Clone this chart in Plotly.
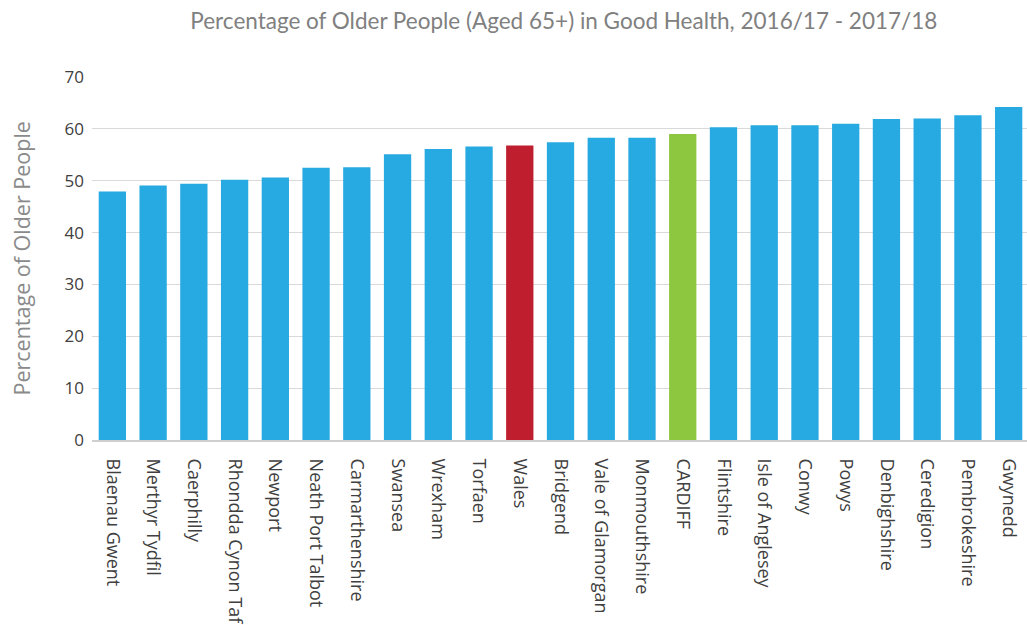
import plotly.graph_objects as go

areas = ["Blaenau Gwent", "Merthyr Tydfil", "Caerphilly", "Rhondda Cynon Taf", "Newport",
         "Neath Port Talbot", "Carmarthenshire", "Swansea", "Wrexham", "Torfaen", "Wales",
         "Bridgend", "Vale of Glamorgan", "Monmouthshire", "CARDIFF", "Flintshire",
         "Isle of Anglesey", "Conwy", "Powys", "Denbighshire", "Ceredigion",
         "Pembrokeshire", "Gwynedd"]
values = [47.9, 49.1, 49.4, 50.2, 50.6, 52.5, 52.6, 55.1, 56.1, 56.6, 56.8,
          57.4, 58.3, 58.3, 59.0, 60.3, 60.7, 60.7, 61.0, 61.9, 62.0, 62.6, 64.2]
y_ticks = [0, 10, 20, 30, 40, 50, 60, 70]

BLUE = "#27a9e1"
RED = "#be1e2d"
GREEN = "#8dc63f"
colors = [RED if a == "Wales" else GREEN if a == "CARDIFF" else BLUE for a in areas]

fig = go.Figure(go.Bar(
    x=areas, y=values, marker=dict(color=colors, line=dict(width=0)),
))

fig.update_layout(
    width=1027, height=625,
    margin=dict(l=92, r=0, t=77, b=185, autoexpand=False),
    paper_bgcolor="white", plot_bgcolor="white",
    bargap=0.33,
    showlegend=False,
    title=dict(text="Percentage of Older People (Aged 65+) in Good Health, 2016/17 - 2017/18",
               x=0.549, xanchor="center", y=0.967, yanchor="middle",
               font=dict(family="Lato", size=22.5, color="#808080")),
    font=dict(family="Open Sans", color="#404040"),
    annotations=[dict(text="Percentage of Older People", textangle=-90,
                      xref="paper", yref="paper", x=0, y=0.5, xshift=-71,
                      xanchor="center", yanchor="middle", showarrow=False,
                      font=dict(size=21.5, color="#8a8a8a", family="Open Sans"))],
)
fig.update_xaxes(
    automargin=False,
    tickangle=90, tickfont=dict(size=18, color="#404040", family="Open Sans"),
    ticklabelstandoff=13,
    showline=True, linecolor="#cfcfcf", linewidth=2,
    showgrid=False, ticks="", range=[-0.5, 22.45],
)
fig.update_yaxes(
    automargin=False,
    range=[0, 70], tickvals=y_ticks,
    tickfont=dict(size=17, color="#404040", family="Open Sans"),
    showgrid=True, gridcolor="#d9d9d9", gridwidth=1,
    zeroline=False, ticks="", ticklabelstandoff=7,
)

fig.write_html("out.html",
               config={"displayModeBar": False},
               post_script="document.body.style.margin='0px';document.body.style.overflow='hidden';")
